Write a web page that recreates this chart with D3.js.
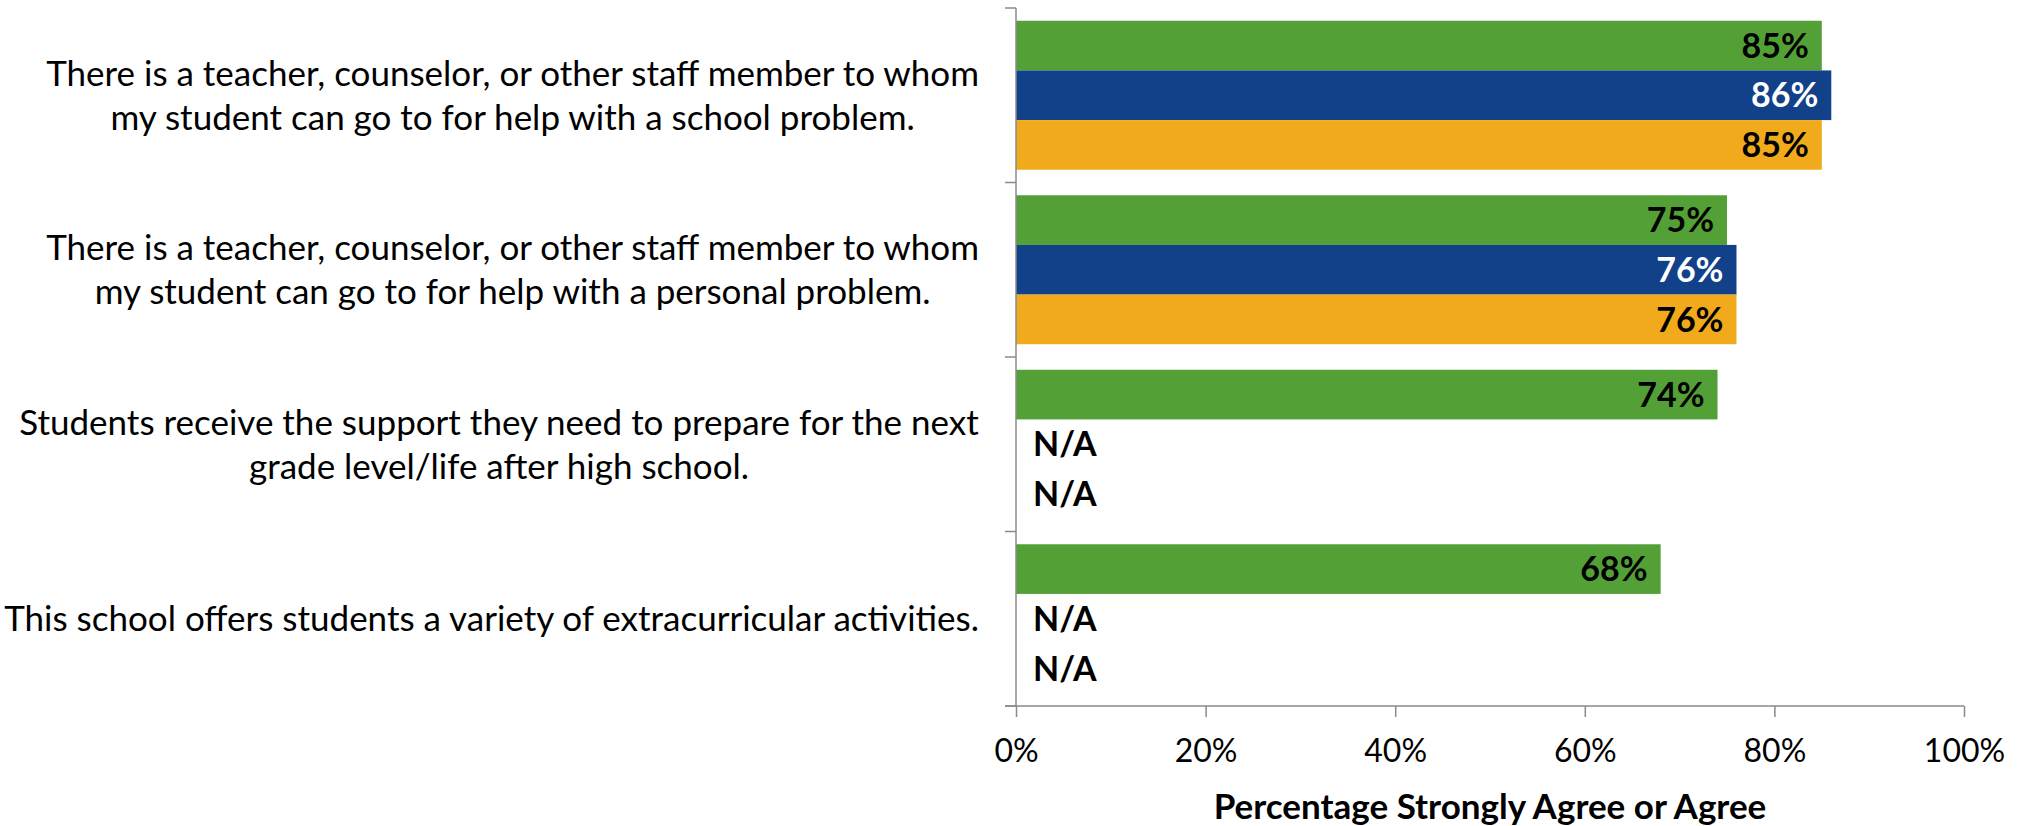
<!DOCTYPE html>
<html>
<head>
<meta charset="utf-8">
<script src="https://cdn.jsdelivr.net/npm/d3@7"></script>
<style>
  html, body { margin: 0; padding: 0; background: #fff; }
  svg { display: block; }
  text { font-family: Lato, "Open Sans", sans-serif; fill: #000; }
</style>
</head>
<body>
<svg id="chart" width="2028" height="826"></svg>
<script>
// question text, one entry per line of the wrapped label
const categories = [
  ["There is a teacher, counselor, or other staff member to whom", "my student can go to for help with a school problem."],
  ["There is a teacher, counselor, or other staff member to whom", "my student can go to for help with a personal problem."],
  ["Students receive the support they need to prepare for the next", "grade level/life after high school."],
  ["This school offers students a variety of extracurricular activities."]
];
const seriesNames = ["green", "blue", "orange"];
const seriesColors = ["#53a036", "#12418a", "#f0aa1c"];
const labelColors = ["#000", "#fff", "#000"];
// null = N/A
const greenValues = [85, 75, 74, 68];
const blueValues = [86, 76, null, null];
const orangeValues = [85, 76, null, null];
const xTicks = [0, 20, 40, 60, 80, 100];
const xTitle = "Percentage Strongly Agree or Agree";

const svg = d3.select("#chart");
const margin = { left: 1016, right: 64, top: 8, bottom: 120 };
const W = 2028, H = 826;

const x = d3.scaleLinear().domain([0, 100]).range([margin.left, W - margin.right]);
const y0 = d3.scaleBand().domain(d3.range(categories.length)).range([margin.top, H - margin.bottom]);
const y1 = d3.scaleBand().domain(seriesNames).range([0, y0.bandwidth()]).paddingOuter(0.257);

const rows = categories.map((c, i) => ({
  idx: i,
  vals: [greenValues[i], blueValues[i], orangeValues[i]]
}));

const axisColor = "#8a8a8a";

// bars
const groups = svg.append("g").selectAll("g")
  .data(rows).enter().append("g")
  .attr("transform", d => `translate(0,${y0(d.idx)})`);

groups.selectAll("rect")
  .data(d => d.vals.map((v, j) => ({ v, j })).filter(e => e.v != null))
  .enter().append("rect")
  .attr("x", x(0))
  .attr("y", e => y1(seriesNames[e.j]))
  .attr("width", e => x(e.v) - x(0))
  .attr("height", y1.bandwidth())
  .attr("fill", e => seriesColors[e.j]);

// value labels / N/A
groups.selectAll("text.val")
  .data(d => d.vals.map((v, j) => ({ v, j })))
  .enter().append("text")
  .attr("class", "val")
  .attr("x", e => e.v == null ? x(0) + 17 : x(e.v) - 13)
  .attr("y", e => y1(seriesNames[e.j]) + y1.bandwidth() / 2)
  .attr("dy", "0.36em")
  .attr("text-anchor", e => e.v == null ? "start" : "end")
  .style("font-size", "34px")
  .style("font-weight", "bold")
  .style("fill", e => e.v == null ? "#000" : labelColors[e.j])
  .text(e => e.v == null ? "N/A" : e.v + "%");

// y axis line + category separators
const yAx = svg.append("g");
yAx.append("line")
  .attr("x1", x(0)).attr("x2", x(0))
  .attr("y1", margin.top).attr("y2", H - margin.bottom)
  .attr("stroke", axisColor).attr("stroke-width", 1.5);
yAx.selectAll("line.tick")
  .data(d3.range(categories.length + 1))
  .enter().append("line")
  .attr("class", "tick")
  .attr("x1", x(0) - 11).attr("x2", x(0))
  .attr("y1", i => margin.top + i * y0.step())
  .attr("y2", i => margin.top + i * y0.step())
  .attr("stroke", axisColor).attr("stroke-width", 1.5);

// category labels
const labelG = svg.append("g");
const lineH = 44;
rows.forEach(r => {
  const lines = categories[r.idx];
  const cy = y0(r.idx) + y0.bandwidth() / 2;
  const t = labelG.append("text")
    .attr("text-anchor", "middle")
    .style("font-size", "35px");
  lines.forEach((ln, k) => {
    t.append("tspan")
      .attr("x", 0)
      .attr("y", cy + (k - (lines.length - 1) / 2) * lineH)
      .attr("dy", "0.35em")
      .text(ln);
  });
  // right align the block at x=979, lines centered within it
  const w = t.node().getBBox().width;
  t.attr("transform", `translate(${979 - w / 2},0)`);
});

// x axis
const xAxis = d3.axisBottom(x)
  .tickValues(xTicks)
  .tickFormat(d => d + "%")
  .tickSizeInner(11)
  .tickSizeOuter(0)
  .tickPadding(22);
const xg = svg.append("g")
  .attr("transform", `translate(0,${H - margin.bottom})`)
  .call(xAxis);
xg.select(".domain").remove();
xg.append("line")
  .attr("x1", x(0) - 11).attr("x2", x(100))
  .attr("stroke", axisColor).attr("stroke-width", 1.5);
xg.selectAll(".tick line").attr("stroke", axisColor).attr("stroke-width", 1.5);
xg.selectAll(".tick text")
  .style("font-family", "Lato, 'Open Sans', sans-serif")
  .style("font-size", "32px")
  .style("fill", "#000");

svg.append("text")
  .attr("x", (x(0) + x(100)) / 2)
  .attr("y", 819)
  .attr("text-anchor", "middle")
  .style("font-size", "35px")
  .style("font-weight", "bold")
  .text(xTitle);
</script>
</body>
</html>
